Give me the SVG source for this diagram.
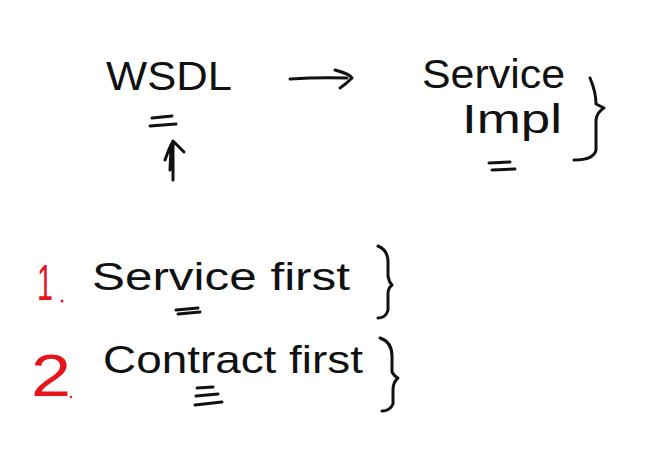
<svg xmlns="http://www.w3.org/2000/svg" width="648" height="453" viewBox="0 0 648 453">
<style>
.t{font-family:"Liberation Sans","DejaVu Sans",sans-serif;fill:#111}
.r{font-family:"Liberation Sans","DejaVu Sans",sans-serif;fill:#e8141c}
.s{fill:none;stroke:#111;stroke-width:3;stroke-linecap:round;stroke-linejoin:round}
</style>
<rect width="648" height="453" fill="#fff"/>
<g id="wsdl">
<text class="t" x="106" y="90" font-size="40" textLength="126" lengthAdjust="spacingAndGlyphs">WSDL</text>
<path class="s" d="M152 118 L172 116 M150 126 L176 124"/>
</g>
<g id="service-impl">
<text class="t" x="422" y="88" font-size="40" textLength="143" lengthAdjust="spacingAndGlyphs">Service</text>
<text class="t" x="462" y="133" font-size="40" textLength="100" lengthAdjust="spacingAndGlyphs">Impl</text>
<path class="s" d="M489 163 L510 162 M492 170 L515 169"/>
<path class="s" d="M590 78 Q596 92 596 104 Q600 106 604 108 Q597 112 596 120 L596 150 Q594 160 574 160"/>
</g>
<g id="connectors">
<path class="s" d="M290 79 Q320 77 347 78 M335 70 Q350 74 352 78 Q346 84 340 88"/>
<path class="s" d="M173 180 L173 142 M165 160 Q170 146 173 141 Q178 146 184 152 M170 170 L171 148"/>
</g>
<g id="service-first">
<text class="r" x="37" y="300" font-size="50" textLength="16" lengthAdjust="spacingAndGlyphs">1</text>
<circle cx="62" cy="301" r="1.5" fill="#e8141c"/>
<text class="t" x="92" y="290" font-size="38" textLength="258" lengthAdjust="spacingAndGlyphs">Service first</text>
<path class="s" d="M176 310 L198 308 M178 314 L200 312"/>
<path class="s" d="M378 246 Q388 250 388 262 L388 276 Q389 282 392 285 Q388 288 388 294 L388 310 Q386 318 378 318"/>
</g>
<g id="contract-first">
<text class="r" x="31" y="396" font-size="60" textLength="40" lengthAdjust="spacingAndGlyphs">2</text>
<circle cx="71" cy="397" r="1.2" fill="#e8141c"/>
<text class="t" x="103" y="373" font-size="38" textLength="260" lengthAdjust="spacingAndGlyphs">Contract first</text>
<path class="s" d="M197 388 L213 387 M196 396 L218 394 M195 405 L222 402"/>
<path class="s" d="M380 338 Q392 342 392 356 L392 372 Q394 376 398 378 Q393 382 393 390 L393 404 Q390 411 382 411"/>
</g>
</svg>
